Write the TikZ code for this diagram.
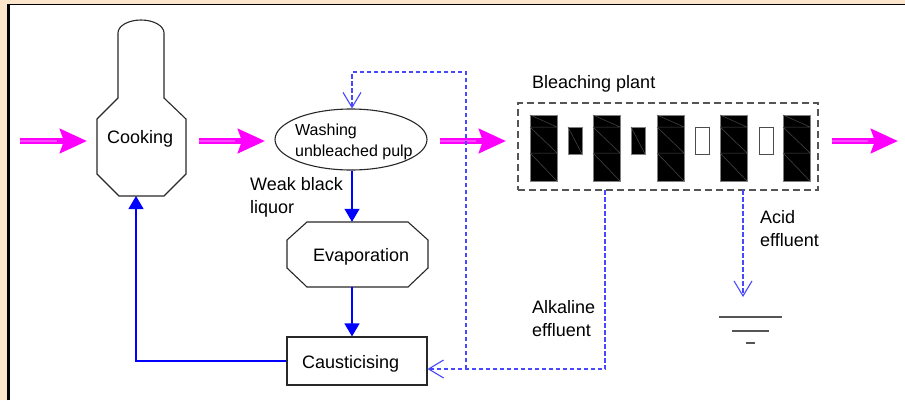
\documentclass[tikz,border=0pt]{standalone}
\usepackage{fontspec}
\setmainfont{Liberation Sans}
\usetikzlibrary{arrows.meta,shapes.geometric,calc}

\definecolor{peach}{RGB}{253,229,204}
\definecolor{flowmag}{RGB}{255,0,255}
\definecolor{flowmaglight}{RGB}{255,70,255}
\definecolor{liquor}{RGB}{0,0,255}
\definecolor{effl}{RGB}{72,72,255}
\definecolor{outline}{RGB}{40,40,40}
\definecolor{plantgray}{RGB}{85,85,85}
\definecolor{tankline}{RGB}{75,75,75}

\tikzset{
  lbl/.style={inner sep=0pt, font=\fontsize{18}{23}\selectfont, align=left},
  smalllbl/.style={inner sep=0pt, font=\fontsize{16}{21}\selectfont, align=left},
  unitline/.style={draw=outline, line width=1.1pt},
  pulpflow/.style={draw=flowmag, line width=6.5pt,
    -{Stealth[length=27pt, width=24pt, inset=4pt]}},
  pulpcore/.style={draw=flowmaglight, line width=1.2pt},
  liquorflow/.style={draw=liquor, line width=1.1pt,
    -{Triangle[length=13pt, width=15pt]}},
  effflow/.style={draw=effl, line width=1.1pt, dash pattern=on 4.5pt off 2.5pt,
    -{Straight Barb[length=15pt, width=18pt, line width=1.1pt]}},
  earth/.style={draw=plantgray, line width=1.4pt},
  bigtank/.pic={
    \fill[black] (0,0) rectangle (27,66);
    \draw[gray, line width=0.8pt] (0,0) rectangle (27,66);
    \draw[tankline, line width=0.5pt]
      (0,12) -- (27,12) (0,38) -- (27,38)
      (0,0) -- (27,12) (0,12) -- (27,38) (0,38) -- (27,66);
  },
  darkcell/.pic={
    \fill[black] (0,0) rectangle (14,27);
    \draw[gray, line width=0.8pt] (0,0) rectangle (14,27);
    \draw[tankline, line width=0.5pt] (0,0) -- (14,27);
  },
  lightcell/.pic={
    \fill[white] (0,0) rectangle (14,27);
    \draw[black!70, line width=1pt] (0,0) rectangle (14,27);
  }
}

\begin{document}
\begin{tikzpicture}[x=1pt, y=-1pt]
\useasboundingbox (0,0) rectangle (905,400);

% page frame
\fill[peach] (0,0) rectangle (905,400);
\fill[white] (9,4.5) rectangle (905,400);
\draw[black, line width=2.6pt] (8.6,400) -- (8.6,4.5);
\draw[black, line width=1.4pt] (7.3,4.5) -- (905,4.5);

% ---- digester ----
\draw[unitline] (118,33) arc[start angle=180, end angle=360, x radius=23, y radius=13]
  -- (164,98) -- (186,119) -- (186,174) -- (164,196) -- (119,196)
  -- (97,174) -- (97,119) -- (118,98) -- cycle;
\node[lbl, anchor=base west] (cook) at (107,143) {Cooking};
\coordinate (cookbot) at (136,196);

% ---- brown stock washing ----
\node[draw=outline, line width=1.1pt, ellipse, minimum width=152, minimum height=61,
      inner sep=0pt] (wash) at (351,139.5) {};
\node[smalllbl, anchor=north west] (washtext) at (295,123.5) {Washing\\unbleached pulp};

% ---- evaporation ----
\draw[unitline] (307,222) -- (408,222) -- (428,240) -- (428,268) -- (408,287)
  -- (307,287) -- (287,268) -- (287,240) -- cycle;
\node[minimum width=141, minimum height=65, inner sep=0pt] (evap) at (357.5,254.5) {};
\node[lbl, anchor=base west] (evaptext) at (313,261) {Evaporation};

% ---- causticising ----
\node[draw=outline, line width=1.1pt, minimum width=140, minimum height=48,
      inner sep=0pt] (caus) at (357,361) {};
\node[lbl, anchor=base west] (caustext) at (302,368) {Causticising};

% ---- bleaching plant ----
\node[draw=plantgray, line width=1.4pt, dash pattern=on 7pt off 4pt,
      minimum width=300, minimum height=87, inner sep=0pt] (bleach) at (668,146.5) {};
\node[lbl, anchor=base west] (bleachtext) at (532,88) {Bleaching plant};
\foreach \tx in {530,593,657,720,783} \pic at (\tx,115) {bigtank};
\foreach \cx in {568,631} \pic at (\cx,127) {darkcell};
\foreach \cx in {695,759} \pic at (\cx,127) {lightcell};

% ---- pulp line ----
\coordinate (feedA) at (20,141);   \coordinate (feedB) at (87,141);
\coordinate (cookA) at (199,141);  \coordinate (cookB) at (265,141);
\coordinate (washA) at (440,141);  \coordinate (washB) at (506,141);
\coordinate (bleachA) at (832,141);\coordinate (bleachB) at (898,141);
\foreach \a/\b in {feedA/feedB, cookA/cookB, washA/washB, bleachA/bleachB} {
  \draw[pulpflow] (\a) -- (\b);
  \draw[pulpcore] (\a) -- ($(\a)!0.55!(\b)$);
}

% ---- liquor cycle ----
\draw[liquorflow] (wash.south -| 352,0) -- (evap.north -| 352,0);
\draw[liquorflow] (evap.south -| 352,0) -- (caus.north -| 352,0);
\draw[liquorflow] (caus.west) -| (cookbot);
\node[lbl, anchor=north west] (weaktext) at (250,177) {Weak black\\liquor};

% ---- effluents ----
\coordinate (alkout) at (605,190);
\coordinate (junc) at (466,369);
\coordinate (washin) at (352,72);
\draw[effflow] (alkout) |- ($(caus.east)+(0,8)$);
\draw[effflow] (junc) |- (washin) -- (wash.north -| washin);
\node[lbl, anchor=north west] (alktext) at (532,300) {Alkaline\\effluent};

\coordinate (acidout) at (743,190);
\coordinate (drain) at (743,297);
\draw[effflow] (acidout) -- (drain);
\node[lbl, anchor=north west] (acidtext) at (760,210) {Acid\\effluent};

% ---- sewer / earth symbol ----
\coordinate (gnd) at (750.5,317);
\draw[earth] ($(gnd)+(-31.5,0)$) -- ($(gnd)+(31.5,0)$);
\draw[earth] ($(gnd)+(-18.5,14)$) -- ($(gnd)+(18.5,14)$);
\draw[earth] ($(gnd)+(-4.5,26)$) -- ($(gnd)+(4.5,26)$);
\end{tikzpicture}
\end{document}
